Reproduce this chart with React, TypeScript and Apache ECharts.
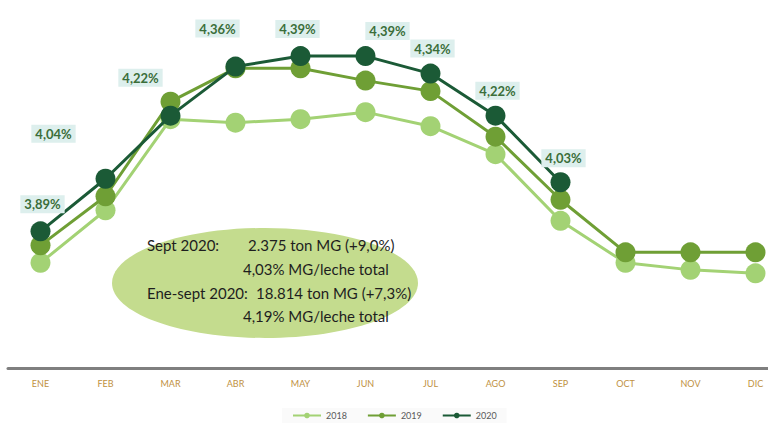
import React, { useEffect, useRef } from "react";
import * as echarts from "echarts";

const months = ["ENE", "FEB", "MAR", "ABR", "MAY", "JUN", "JUL", "AGO", "SEP", "OCT", "NOV", "DIC"];
const s2018 = [3.80, 3.95, 4.21, 4.20, 4.21, 4.23, 4.19, 4.11, 3.92, 3.80, 3.78, 3.77];
const s2019 = [3.85, 3.99, 4.26, 4.355, 4.355, 4.32, 4.29, 4.16, 3.98, 3.83, 3.83, 3.83];
const s2020 = [3.89, 4.04, 4.22, 4.36, 4.39, 4.39, 4.34, 4.22, 4.03, null, null, null];
const labelOffsets: [number, number][] = [
  [2, -27], [-52, -45], [-30, -38], [-18, -38], [-3, -27], [22, -25], [2, -25], [2, -25], [3, -24],
];
const boxLines = [
  { x: 147, y: 245, t: "Sept 2020:" },
  { x: 248, y: 245, t: "2.375 ton MG (+9,0%)" },
  { x: 243, y: 269, t: "4,03% MG/leche total" },
  { x: 147, y: 293, t: "Ene-sept 2020:" },
  { x: 256, y: 293, t: "18.814 ton MG (+7,3%)" },
  { x: 243, y: 316, t: "4,19% MG/leche total" },
];

const fmt = (v: number) => v.toFixed(2).replace(".", ",") + "%";

export default function App() {
  const ref = useRef<HTMLDivElement>(null);
  useEffect(() => {
    if (!ref.current) return;
    const chart = echarts.init(ref.current, null, { renderer: "svg" });
    const colors = ["#a3d274", "#6f9f35", "#1b5a36"];
    const data2020 = s2020.map((v, i) =>
      v == null
        ? null
        : {
            value: v,
            label: {
              show: true,
              offset: labelOffsets[i],
              position: "inside",
              formatter: () => fmt(v),
            },
          }
    );
    chart.setOption({
      animation: false,
      color: colors,
      grid: { left: 8, width: 780, top: -4, height: 372, containLabel: false },
      xAxis: {
        type: "category",
        data: months,
        boundaryGap: true,
        axisLine: { show: true, lineStyle: { color: "#7f7f7f", width: 3 } },
        axisTick: { show: false },
        axisLabel: { color: "#c0913f", fontSize: 9, fontFamily: "Lato", margin: 11 },
        splitLine: { show: false },
      },
      yAxis: {
        type: "value",
        min: 3.5,
        max: 4.55,
        show: false,
        splitLine: { show: false },
      },
      legend: {
        data: ["2018", "2019", "2020"],
        top: 408,
        left: 282,
        itemWidth: 28,
        itemHeight: 7,
        itemGap: 20,
        textStyle: { color: "#595959", fontSize: 9, fontFamily: "Lato" },
        backgroundColor: "#fafafa",
        padding: [3, 10],
      },
      series: [
        {
          name: "2018",
          type: "line",
          data: s2018,
          symbol: "circle",
          symbolSize: 20,
          lineStyle: { width: 3, color: colors[0] },
          itemStyle: { color: colors[0] },
          z: 2,
        },
        {
          name: "2019",
          type: "line",
          data: s2019,
          symbol: "circle",
          symbolSize: 20,
          lineStyle: { width: 3, color: colors[1] },
          itemStyle: { color: colors[1] },
          z: 3,
        },
        {
          name: "2020",
          type: "line",
          data: data2020,
          symbol: "circle",
          symbolSize: 20,
          lineStyle: { width: 3, color: colors[2] },
          itemStyle: { color: colors[2] },
          z: 4,
          label: {
            show: true,
            color: "#3b6e3a",
            fontWeight: "bold",
            fontSize: 13,
            fontFamily: "Lato",
            backgroundColor: "#ddefed",
            padding: [3, 4, 2, 4],
          },
        },
      ],
      graphic: [
        {
          type: "ellipse",
          shape: { cx: 265, cy: 283, rx: 153, ry: 55 },
          style: { fill: "#c4dc8e" },
          z: 1,
        },
        ...boxLines.map((l) => ({
          type: "text",
          x: l.x,
          y: l.y,
          z: 2,
          style: {
            text: l.t,
            fill: "#1e1e1e",
            font: "15px Lato",
            textVerticalAlign: "middle",
          },
        })),
      ],
    });
    return () => chart.dispose();
  }, []);
  return (
    <div
      style={{
        width: 768,
        height: 425,
        position: "fixed",
        top: 0,
        left: 0,
        overflow: "hidden",
        background: "#ffffff",
      }}
    >
      <div ref={ref} style={{ width: 790, height: 425 }} />
    </div>
  );
}
